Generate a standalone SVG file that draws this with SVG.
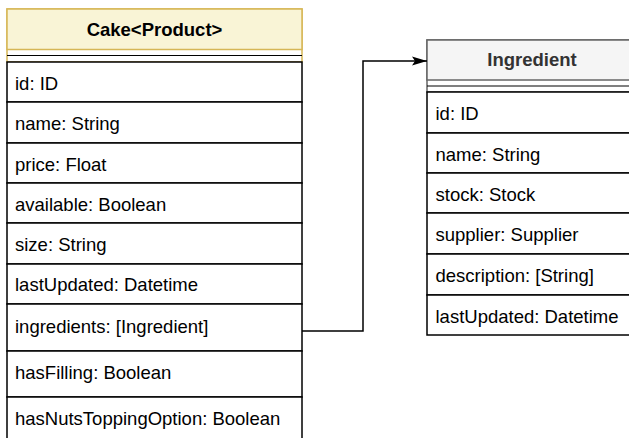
<svg xmlns="http://www.w3.org/2000/svg" width="629" height="438" viewBox="0 0 629 438">
<style>
.row{fill:#ffffff;stroke:#000000;stroke-width:1.5}
.t{font-family:"Liberation Sans",Arial,sans-serif;font-size:18.5px;fill:#000000}
.h{font-family:"Liberation Sans",Arial,sans-serif;font-size:18.5px;font-weight:bold;text-anchor:middle}
.div{stroke:#000000;stroke-width:1}
</style>
<defs>
<marker id="arr" markerUnits="userSpaceOnUse" markerWidth="16" markerHeight="12" refX="15" refY="5" orient="auto">
<path d="M0,0.5 L15,5 L0,9.5 L3,5 Z" fill="#000000"/>
</marker>
</defs>
<rect width="629" height="438" fill="#ffffff"/>
<g id="cake">
<rect x="7" y="9" width="295" height="53" fill="#ffffff" stroke="#d6b656" stroke-width="1.5"/>
<rect x="7" y="9" width="295" height="40.5" fill="#f9f4d6" stroke="#d6b656" stroke-width="1.5"/>
<text class="h" x="154.5" y="35.5" fill="#000000">Cake&lt;Product&gt;</text>
<line class="div" x1="7" y1="55.5" x2="302" y2="55.5"/>
<rect class="row" x="7" y="62" width="295" height="40"/>
<text class="t" x="15" y="89.5">id: ID</text>
<rect class="row" x="7" y="102" width="295" height="41"/>
<text class="t" x="15" y="130">name: String</text>
<rect class="row" x="7" y="143" width="295" height="40"/>
<text class="t" x="15" y="170.5">price: Float</text>
<rect class="row" x="7" y="183" width="295" height="40"/>
<text class="t" x="15" y="210.5">available: Boolean</text>
<rect class="row" x="7" y="223" width="295" height="41"/>
<text class="t" x="15" y="251">size: String</text>
<rect class="row" x="7" y="264" width="295" height="40"/>
<text class="t" x="15" y="291">lastUpdated: Datetime</text>
<rect class="row" x="7" y="304" width="295" height="47"/>
<text class="t" x="15" y="332.5">ingredients: [Ingredient]</text>
<rect class="row" x="7" y="351" width="295" height="46"/>
<text class="t" x="15" y="378.5">hasFilling: Boolean</text>
<rect class="row" x="7" y="397" width="295" height="48"/>
<text class="t" x="15" y="425">hasNutsToppingOption: Boolean</text>
</g>
<g id="ingredient">
<rect x="427" y="40" width="210" height="52" fill="#ffffff" stroke="#666666" stroke-width="1.5"/>
<rect x="427" y="40" width="210" height="40" fill="#f5f5f5" stroke="#666666" stroke-width="1.5"/>
<text class="h" x="532" y="66" fill="#333333">Ingredient</text>
<line class="div" x1="427" y1="86" x2="637" y2="86"/>
<rect class="row" x="427" y="92" width="210" height="41"/>
<text class="t" x="435.5" y="120">id: ID</text>
<rect class="row" x="427" y="133" width="210" height="40"/>
<text class="t" x="435.5" y="160.5">name: String</text>
<rect class="row" x="427" y="173" width="210" height="40"/>
<text class="t" x="435.5" y="200.5">stock: Stock</text>
<rect class="row" x="427" y="213" width="210" height="41"/>
<text class="t" x="435.5" y="241">supplier: Supplier</text>
<rect class="row" x="427" y="254" width="210" height="41"/>
<text class="t" x="435.5" y="282">description: [String]</text>
<rect class="row" x="427" y="295" width="210" height="40"/>
<text class="t" x="435.5" y="322.5">lastUpdated: Datetime</text>
</g>
<g id="connectors">
<path d="M302,331 H363 V61 H427" fill="none" stroke="#000000" stroke-width="1.5" marker-end="url(#arr)"/>
</g>
</svg>
